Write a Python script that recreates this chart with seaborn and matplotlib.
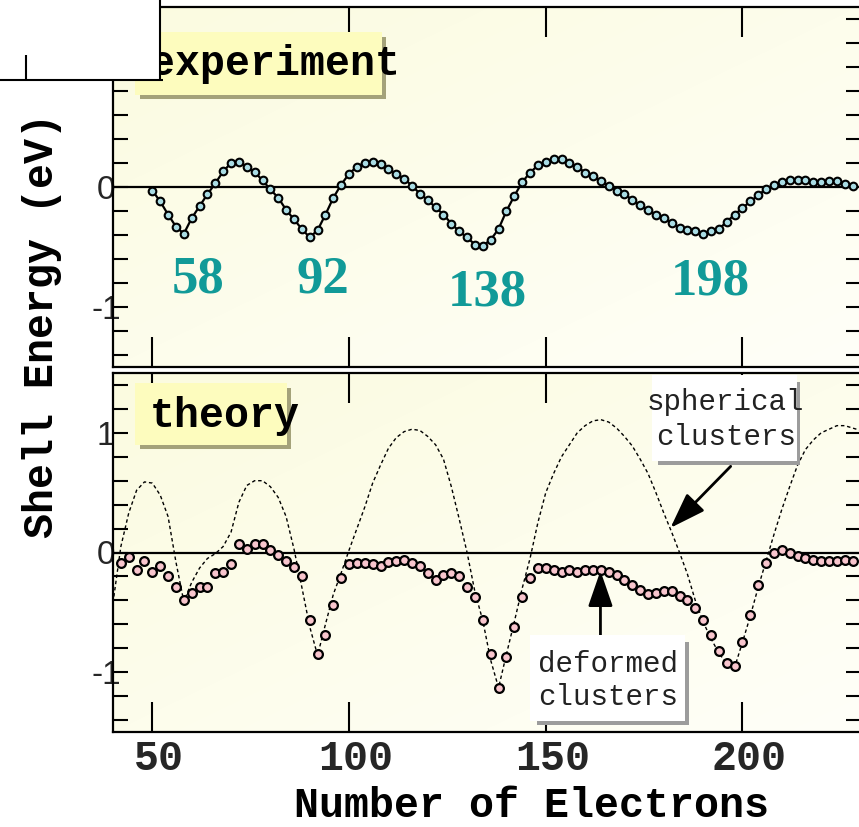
import numpy as np
import pandas as pd
import matplotlib
matplotlib.use("Agg")
import matplotlib.pyplot as plt
import matplotlib.colors as mcolors
import seaborn as sns
from matplotlib.patches import Rectangle
from matplotlib.lines import Line2D
from matplotlib.ticker import FixedLocator, MultipleLocator
from matplotlib.transforms import ScaledTranslation

# ---------------------------------------------------------------- data
# measured shell-correction energies (eV), every second electron number
exp_n = list(range(50, 229, 2))
exp_shell = [
    -0.03, -0.12, -0.23, -0.33, -0.39, -0.26, -0.16, -0.06, 0.03, 0.13,
    0.20, 0.21, 0.17, 0.125, 0.055, -0.02, -0.09, -0.19, -0.27, -0.35,
    -0.42, -0.36, -0.23, -0.09, 0.02, 0.11, 0.17, 0.20, 0.205, 0.19,
    0.15, 0.11, 0.07, 0.01, -0.055, -0.11, -0.17, -0.23, -0.305, -0.37,
    -0.42, -0.48, -0.49, -0.44, -0.35, -0.20, -0.075, 0.04, 0.12, 0.18,
    0.21, 0.23, 0.23, 0.20, 0.17, 0.12, 0.09, 0.047, 0.008, -0.033,
    -0.056, -0.11, -0.15, -0.19, -0.23, -0.255, -0.30, -0.34, -0.355, -0.37,
    -0.39, -0.37, -0.35, -0.29, -0.23, -0.175, -0.12, -0.07, -0.014, 0.014,
    0.04, 0.055, 0.055, 0.055, 0.04, 0.04, 0.047, 0.047, 0.028, 0.008,
]

# theory: deformed clusters
def_n = list(range(42, 229, 2))
deformed_shell = [
    -0.09, -0.04, -0.15, -0.075, -0.16, -0.11, -0.20, -0.29, -0.40, -0.34,
    -0.29, -0.29, -0.175, -0.16, -0.10, 0.075, 0.03, 0.075, 0.075, 0.02,
    -0.02, -0.07, -0.12, -0.20, -0.56, -0.85, -0.69, -0.44, -0.21, -0.10,
    -0.09, -0.09, -0.10, -0.11, -0.08, -0.07, -0.06, -0.09, -0.11, -0.17,
    -0.23, -0.19, -0.17, -0.20, -0.29, -0.375, -0.56, -0.85, -1.13, -0.875,
    -0.62, -0.375, -0.21, -0.13, -0.13, -0.145, -0.16, -0.15, -0.16, -0.15,
    -0.145, -0.145, -0.167, -0.19, -0.23, -0.27, -0.31, -0.35, -0.34, -0.325,
    -0.32, -0.36, -0.40, -0.46, -0.56, -0.69, -0.825, -0.925, -0.95, -0.75,
    -0.52, -0.27, -0.09, 0.0, 0.02, 0.0, -0.03, -0.05, -0.065, -0.075,
    -0.075, -0.07, -0.06, -0.07,
]

# theory: spherical clusters
sph_n = list(range(40, 231, 2))
spherical_shell = [
    -0.42, 0.05, 0.33, 0.52, 0.59, 0.58, 0.48, 0.30, -0.08, -0.41,
    -0.25, -0.13, -0.05, -0.01, 0.05, 0.17, 0.42, 0.56, 0.60, 0.60,
    0.55, 0.46, 0.30, 0.03, -0.29, -0.62, -0.86, -0.60, -0.35, -0.17,
    0.02, 0.20, 0.38, 0.58, 0.73, 0.87, 0.96, 1.01, 1.03, 1.02,
    0.97, 0.90, 0.78, 0.55, 0.28, 0.00, -0.33, -0.57, -0.90, -1.13,
    -0.85, -0.58, -0.30, -0.05, 0.25, 0.50, 0.66, 0.80, 0.90, 1.00,
    1.06, 1.10, 1.11, 1.09, 1.04, 0.97, 0.89, 0.78, 0.66, 0.50,
    0.33, 0.17, 0.00, -0.18, -0.40, -0.58, -0.72, -0.84, -0.93, -0.96,
    -0.75, -0.53, -0.29, -0.07, 0.15, 0.36, 0.55, 0.73, 0.86, 0.94,
    1.00, 1.03, 1.06, 1.06, 1.04, 1.02,
]

magic_labels = ["58", "92", "138", "198"]
magic_x = [61.5, 93.3, 135.2, 191.7]
magic_y = [-0.88, -0.88, -0.985, -0.90]

x_ticks = [50, 100, 150, 200]
x_tick_labels = ["50", "100", "150", "200"]
y_ticks = [-1, 0, 1]
y_tick_labels = ["-1", "0", "1"]

df_exp = pd.DataFrame({"N": exp_n, "shell": exp_shell})
df_def = pd.DataFrame({"N": def_n, "shell": deformed_shell})
df_sph = pd.DataFrame({"N": sph_n, "shell": spherical_shell})

# ---------------------------------------------------------------- figure
sns.set_style("white")
plt.rcParams["font.family"] = ["Liberation Mono", "DejaVu Sans"]

W, H = 859, 827
fig = plt.figure(figsize=(W / 100, H / 100), dpi=100)
fig.patch.set_facecolor("white")


def fx(px):
    return px / W


def fy(py):
    return 1 - py / H


def axes_box(top, bottom):
    return [fx(113), fy(bottom), (860.5 - 113) / W, (bottom - top) / H]


ax1 = fig.add_axes(axes_box(7, 367))
ax2 = fig.add_axes(axes_box(373, 732))

CREAM_A = np.array(mcolors.to_rgb("#FBFBE0"))
CREAM_B = np.array(mcolors.to_rgb("#FFFFF8"))


def paint_background(ax):
    gx, gy = np.meshgrid(np.linspace(0, 1, 64), np.linspace(0, 1, 64))
    t = np.clip((gx + gy) / 2, 0, 1)
    img = CREAM_A + (CREAM_B - CREAM_A) * t[..., None]
    ax.imshow(img, extent=(0, 1, 0, 1), transform=ax.transAxes,
              aspect="auto", origin="upper", interpolation="bilinear",
              zorder=-5)


for ax in (ax1, ax2):
    paint_background(ax)
    ax.axhline(0, color="black", lw=1.6, zorder=2)

# experiment panel
sns.lineplot(data=df_exp, x="N", y="shell", ax=ax1, color="black", lw=1.6,
             marker="o", markersize=5.5, markerfacecolor="#A9DCE4",
             markeredgecolor="black", markeredgewidth=1.5, errorbar=None,
             zorder=4)

# theory panel
sns.lineplot(data=df_sph, x="N", y="shell", ax=ax2, color="black", lw=1.0,
             linestyle=(0, (2.5, 2.0)), errorbar=None, zorder=3)
sns.scatterplot(data=df_def, x="N", y="shell", ax=ax2, s=40,
                color="#F8C5CD", edgecolor="black", linewidth=1.6, zorder=4)

for ax in (ax1, ax2):
    ax.set_xlabel("")
    ax.set_ylabel("")
    ax.set_xlim(40, 230)
    ax.set_ylim(-1.5, 1.5)
    for sp in ax.spines.values():
        sp.set_linewidth(1.6)
        sp.set_color("black")
    ax.xaxis.set_major_locator(FixedLocator(x_ticks))
    ax.yaxis.set_major_locator(FixedLocator(y_ticks))
    ax.yaxis.set_minor_locator(MultipleLocator(0.2))
    ax.tick_params(axis="x", which="major", direction="in", length=21.6,
                   width=1.5, top=True, bottom=True, color="black")
    ax.tick_params(axis="y", which="both", direction="in", length=10.8,
                   width=1.5, left=True, right=True, color="black")
    ax.set_yticks(y_ticks)
    ax.set_yticklabels(y_tick_labels, fontsize=24, family="Liberation Sans")
    ax.tick_params(axis="y", pad=5)
    for lab in ax.get_yticklabels():
        lab.set_ha("center")

ax1.tick_params(axis="x", labelbottom=False)
ax2.set_xticks(x_ticks)
ax2.set_xticklabels(x_tick_labels, fontsize=30, weight="bold",
                    family="Liberation Mono")
ax2.tick_params(axis="x", pad=5)
shift = ScaledTranslation(0.07, 0, fig.dpi_scale_trans)
for lab in ax2.get_xticklabels():
    lab.set_transform(lab.get_transform() + shift)

# magic-number labels
for lab, x, y in zip(magic_labels, magic_x, magic_y):
    ax1.text(x, y, lab, ha="center", va="baseline", fontsize=38,
             weight="bold", family="Liberation Serif", color="#119A98",
             zorder=5)

# arrows pointing at the two theory curves
arrow_kw = dict(arrowstyle="-|>,head_length=1.1,head_width=0.38",
                color="black", lw=2.0, mutation_scale=20,
                shrinkA=0, shrinkB=0)
ax2.annotate("", xy=(181.7, 0.206), xytext=(197.0, 0.72),
             arrowprops=arrow_kw, zorder=6)
ax2.annotate("", xy=(163.9, -0.153), xytext=(163.9, -0.69),
             arrowprops=arrow_kw, zorder=6)


# ---------------------------------------------------------------- boxes
def rect(x0, y0, x1, y1, color, z):
    fig.add_artist(Rectangle((fx(x0), fy(y1)), (x1 - x0) / W, (y1 - y0) / H,
                             transform=fig.transFigure, facecolor=color,
                             edgecolor="none", zorder=z))


def seg(x0, y0, x1, y1, z, lw=1.5, color="black"):
    fig.add_artist(Line2D([fx(x0), fx(x1)], [fy(y0), fy(y1)],
                          transform=fig.transFigure, color=color, lw=lw,
                          zorder=z, solid_capstyle="butt"))


# panel captions with drop shadow
rect(140, 37, 386, 99, "#A4A27A", 2)
rect(135, 32, 382, 95, "#FDFCBE", 2.1)
fig.text(fx(150), fy(75), "experiment", ha="left", va="baseline",
         fontsize=30, weight="bold", color="black", zorder=3)

rect(140, 388, 291, 449, "#A4A27A", 2)
rect(135, 383, 287, 445, "#FDFCBE", 2.1)
fig.text(fx(150), fy(427), "theory", ha="left", va="baseline",
         fontsize=30, weight="bold", color="black", zorder=3)

# curve legends
rect(658, 382, 800, 465, "#9C9C9C", 2)
rect(652, 375, 797, 461, "white", 2.1)
fig.text(fx(725), fy(410), "spherical", ha="center", va="baseline",
         fontsize=21, color="#222222", zorder=3)
fig.text(fx(726), fy(445), "clusters", ha="center", va="baseline",
         fontsize=21, color="#222222", zorder=3)

rect(537, 642, 689, 725, "#9C9C9C", 2)
rect(530, 635, 685, 721, "white", 2.1)
fig.text(fx(608), fy(672), "deformed", ha="center", va="baseline",
         fontsize=21, color="#222222", zorder=3)
fig.text(fx(608), fy(705), "clusters", ha="center", va="baseline",
         fontsize=21, color="#222222", zorder=3)

# blank inset frame in the upper-left corner
rect(0, 0, 160, 80, "white", 5)
seg(160, 0, 160, 81, 6)
seg(0, 80, 163, 80, 6)
seg(26, 55, 26, 80, 6)

# axis titles
fig.text(fx(42), fy(326), "Shell Energy (eV)", rotation=90, ha="center",
         va="center", fontsize=30, weight="bold", color="black")
fig.text(fx(532), fy(817), "Number of Electrons", ha="center",
         va="baseline", fontsize=30, weight="bold", color="black")

fig.savefig("out.png", dpi=100)
